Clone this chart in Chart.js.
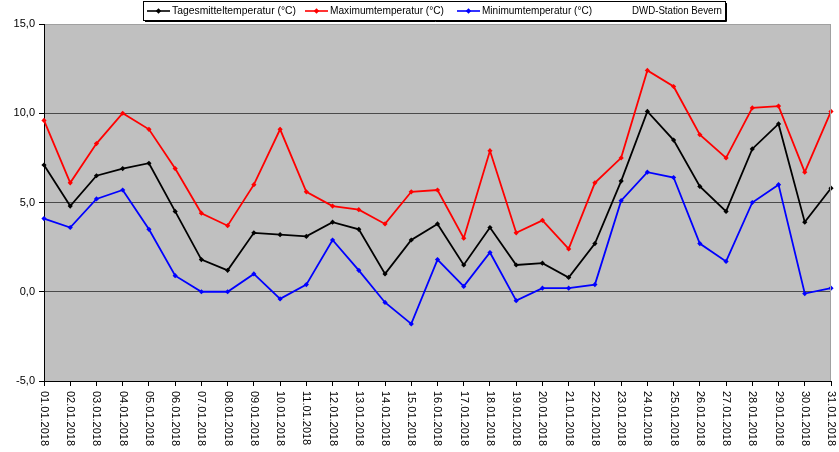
<!DOCTYPE html>
<html>
<head>
<meta charset="utf-8">
<script src="https://cdn.jsdelivr.net/npm/chart.js@4"></script>
<style>
  html, body { margin: 0; padding: 0; background: #ffffff; }
  #wrap { width: 839px; height: 452px; position: relative; }
</style>
</head>
<body>
<div id="wrap"><canvas id="tempChart" width="839" height="452"></canvas></div>
<script>
// Januar 2018, DWD-Station Bevern
const days = ['01.01.2018', '02.01.2018', '03.01.2018', '04.01.2018', '05.01.2018', '06.01.2018',
    '07.01.2018', '08.01.2018', '09.01.2018', '10.01.2018', '11.01.2018', '12.01.2018', '13.01.2018',
    '14.01.2018', '15.01.2018', '16.01.2018', '17.01.2018', '18.01.2018', '19.01.2018', '20.01.2018',
    '21.01.2018', '22.01.2018', '23.01.2018', '24.01.2018', '25.01.2018', '26.01.2018', '27.01.2018',
    '28.01.2018', '29.01.2018', '30.01.2018', '31.01.2018'];
const meanTemp = [7.1, 4.8, 6.5, 6.9, 7.2, 4.5, 1.8, 1.2, 3.3, 3.2, 3.1, 3.9, 3.5, 1.0, 2.9, 3.8,
    1.5, 3.6, 1.5, 1.6, 0.8, 2.7, 6.2, 10.1, 8.5, 5.9, 4.5, 8.0, 9.4, 3.9, 5.8];
const maxTemp = [9.6, 6.1, 8.3, 10.0, 9.1, 6.9, 4.4, 3.7, 6.0, 9.1, 5.6, 4.8, 4.6, 3.8, 5.6, 5.7,
    3.0, 7.9, 3.3, 4.0, 2.4, 6.1, 7.5, 12.4, 11.5, 8.8, 7.5, 10.3, 10.4, 6.7, 10.1];
const minTemp = [4.1, 3.6, 5.2, 5.7, 3.5, 0.9, 0.0, 0.0, 1.0, -0.4, 0.4, 2.9, 1.2, -0.6, -1.8, 1.8,
    0.3, 2.2, -0.5, 0.2, 0.2, 0.4, 5.1, 6.7, 6.4, 2.7, 1.7, 5.0, 6.0, -0.1, 0.2];
const seriesNames = ['Tagesmitteltemperatur (°C)', 'Maximumtemperatur (°C)', 'Minimumtemperatur (°C)'];
const stationName = 'DWD-Station Bevern';
const yTicks = [-5, 0, 5, 10, 15];

const FONT = 'Arial, "Liberation Sans", sans-serif';

// plot background and right border
const plotArea = {
    id: 'plotArea',
    beforeDraw(chart) {
        const a = chart.chartArea, ctx = chart.ctx;
        ctx.save();
        ctx.fillStyle = '#c0c0c0';
        ctx.fillRect(a.left, a.top, a.right - a.left, a.bottom - a.top);
        ctx.restore();
    },
    afterDraw(chart) {
        const a = chart.chartArea, ctx = chart.ctx;
        ctx.save();
        ctx.strokeStyle = '#a0a0a0';
        ctx.lineWidth = 1;
        ctx.beginPath();
        ctx.moveTo(Math.round(a.right) - 0.5, a.top);
        ctx.lineTo(Math.round(a.right) - 0.5, a.bottom);
        ctx.stroke();
        ctx.restore();
    }
};

// x labels rotated clockwise (read top to bottom)
const dateLabels = {
    id: 'dateLabels',
    afterDraw(chart) {
        const xs = chart.scales.x, ctx = chart.ctx;
        ctx.save();
        ctx.font = '11px ' + FONT;
        ctx.fillStyle = '#000';
        ctx.textAlign = 'left';
        ctx.textBaseline = 'middle';
        days.forEach(function(d, i) {
            const x = xs.getPixelForTick(i);
            ctx.save();
            ctx.translate(x, xs.top + 10);
            ctx.rotate(Math.PI / 2);
            ctx.fillText(d, 0, 0);
            ctx.restore();
        });
        ctx.restore();
    }
};

// condensed text squeezed into a given width
function squeezeText(ctx, text, x, y, w) {
    const k = w / ctx.measureText(text).width;
    ctx.save();
    ctx.translate(x, y);
    ctx.scale(Math.min(k, 1), 1);
    ctx.fillText(text, 0, 0);
    ctx.restore();
}

// boxed legend at the top
const boxLegend = {
    id: 'boxLegend',
    afterDraw(chart) {
        const ctx = chart.ctx;
        ctx.save();
        ctx.fillStyle = '#fff';
        ctx.fillRect(143.5, 1.5, 582, 19);
        ctx.strokeStyle = '#000';
        ctx.lineWidth = 1;
        ctx.strokeRect(143.5, 1.5, 582, 19);
        ctx.beginPath();
        ctx.moveTo(145, 21.5);
        ctx.lineTo(726.5, 21.5);
        ctx.lineTo(726.5, 3);
        ctx.stroke();
        const slots = [147, 305, 457];
        const widths = [124, 114, 110];
        ctx.font = '11px ' + FONT;
        ctx.textBaseline = 'middle';
        chart.data.datasets.forEach(function(ds, i) {
            const x0 = slots[i];
            ctx.strokeStyle = ds.borderColor;
            ctx.fillStyle = ds.borderColor;
            ctx.lineWidth = 1.6;
            ctx.beginPath();
            ctx.moveTo(x0, 11);
            ctx.lineTo(x0 + 23, 11);
            ctx.stroke();
            ctx.beginPath();
            ctx.moveTo(x0 + 11.5, 8.3);
            ctx.lineTo(x0 + 14.2, 11);
            ctx.lineTo(x0 + 11.5, 13.7);
            ctx.lineTo(x0 + 8.8, 11);
            ctx.closePath();
            ctx.fill();
            ctx.fillStyle = '#000';
            squeezeText(ctx, ds.label, x0 + 25, 11, widths[i]);
        });
        ctx.fillStyle = '#000';
        squeezeText(ctx, stationName, 632, 11, 90);
        ctx.restore();
    }
};

function lineSet(label, data, color) {
    return {
        label: label,
        data: data,
        borderColor: color,
        backgroundColor: color,
        borderWidth: 1.8,
        pointStyle: 'rectRot',
        pointRadius: 2.6,
        pointBorderWidth: 0,
        tension: 0,
        fill: false
    };
}

new Chart(document.getElementById('tempChart'), {
    type: 'line',
    data: {
        labels: days,
        datasets: [
            lineSet(seriesNames[0], meanTemp, '#000000'),
            lineSet(seriesNames[1], maxTemp, '#ff0000'),
            lineSet(seriesNames[2], minTemp, '#0000ff')
        ]
    },
    options: {
        responsive: false,
        devicePixelRatio: 1,
        animation: false,
        layout: { padding: { top: 24, right: 8, left: 0, bottom: 0 } },
        plugins: {
            legend: { display: false },
            tooltip: { enabled: false }
        },
        scales: {
            x: {
                offset: false,
                afterFit: function(scale) { scale.height = 71; },
                grid: {
                    drawOnChartArea: false,
                    drawTicks: true,
                    tickLength: 5,
                    tickColor: '#000'
                },
                border: { color: '#000', width: 1 },
                ticks: { display: false, autoSkip: false }
            },
            y: {
                min: yTicks[0],
                max: yTicks[yTicks.length - 1],
                afterFit: function(scale) { scale.width = 44; },
                afterBuildTicks: function(scale) {
                    scale.ticks = yTicks.map(function(v) { return { value: v }; });
                },
                grid: {
                    color: function(c) {
                        if (c.tick.value === 15) return '#a0a0a0';
                        if (c.tick.value === -5) return '#000';
                        return '#4a4a4a';
                    },
                    lineWidth: 1,
                    tickLength: 5,
                    tickColor: '#000'
                },
                border: { color: '#000', width: 1 },
                ticks: {
                    padding: 4,
                    color: '#000',
                    font: { family: FONT, size: 11 },
                    callback: function(v) { return v.toFixed(1).replace('.', ','); }
                }
            }
        }
    },
    plugins: [plotArea, dateLabels, boxLegend]
});
</script>
</body>
</html>
